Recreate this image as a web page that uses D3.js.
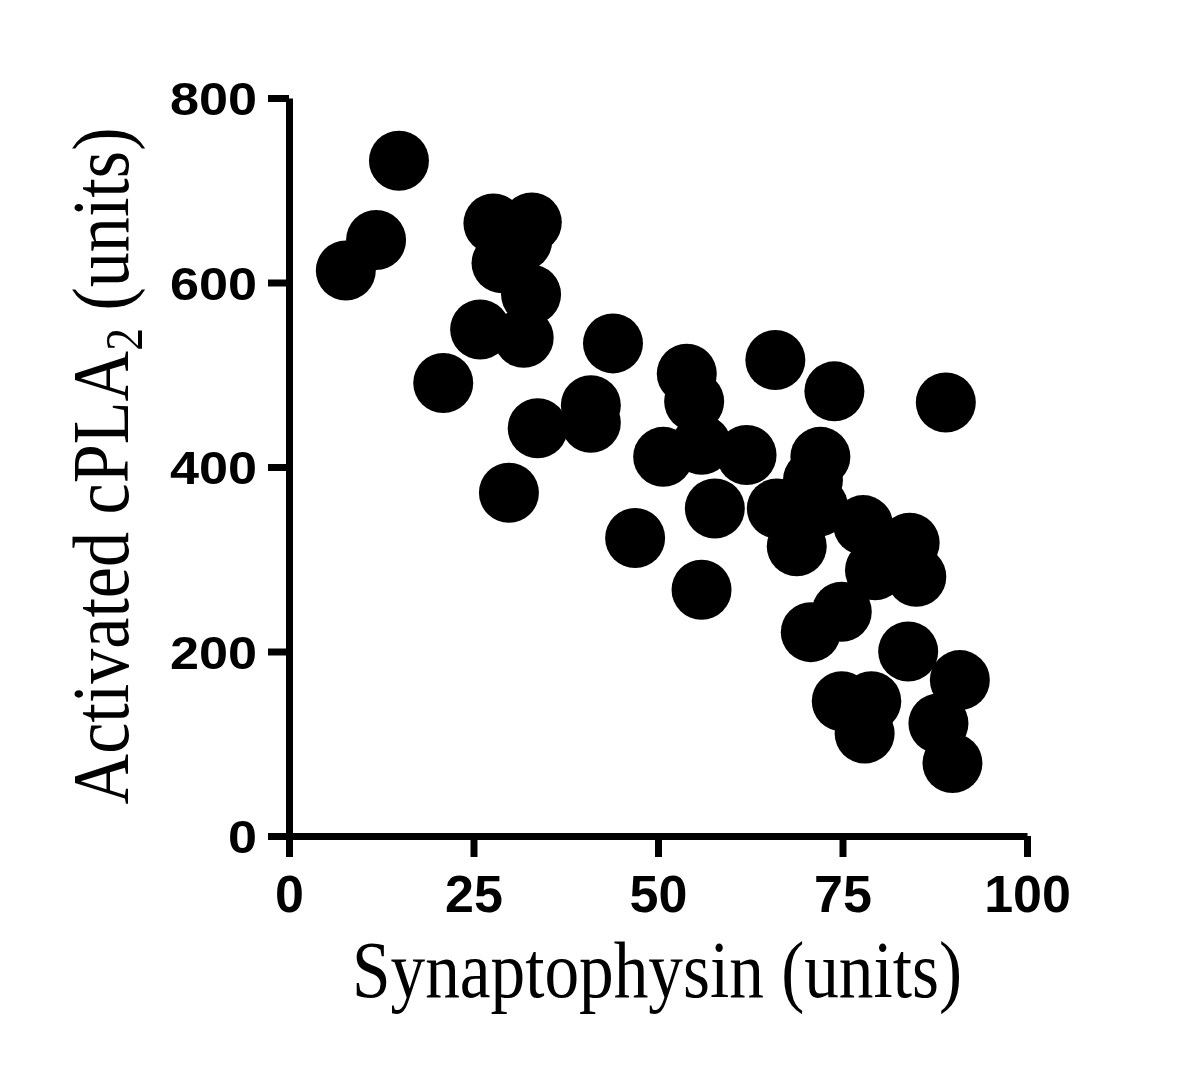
<!DOCTYPE html>
<html>
<head>
<meta charset="utf-8">
<script src="https://cdn.jsdelivr.net/npm/d3@7"></script>
<style>
  body { margin: 0; background: #fff; }
  svg { display: block; }
</style>
</head>
<body>
<svg></svg>
<script>
var width  = 1200;
var height = 1067;

// synaptophysin (x) and activated cPLA2 (y)
var synaptophysin = [
     7.7, 11.8, 14.9, 20.9, 25.9, 27.7, 32.9, 28.8, 31.6, 32.8,
    31.8, 29.8, 33.7, 40.9, 40.9, 43.9, 46.9, 50.7, 53.9, 54.9,
    55.9, 55.9, 57.7, 62.0, 65.9, 66.1, 68.8, 71.0, 71.7, 72.0,
    73.9, 77.8, 84.1, 79.4, 85.0, 70.7, 74.9, 83.9, 74.9, 78.9,
    78.0, 88.0, 89.9, 90.9, 89.0
];
var cpla2 = [
    613, 646, 732, 491, 549, 664, 665, 621, 645, 587,
    540, 372, 442, 467, 448, 534, 323, 411, 501, 471,
    424, 267, 355, 413, 516, 355, 314, 386, 357, 411,
    482, 337, 318, 288, 281, 221, 243, 200, 146, 146,
    111, 122,  79, 169, 470
];
var xTicks = [0, 25, 50, 75, 100];
var yTicks = [0, 200, 400, 600, 800];

var data = synaptophysin.map((x, i) => ({x: x, y: cpla2[i]}));

var xScale = d3.scaleLinear()
                    .domain([0, 100])
                    .range([289, 1027]);

var yScale = d3.scaleLinear()
                    .domain([0, 800])
                    .range([836, 98]);

var svg = d3.select('svg')
        .attr('width', width)
        .attr('height', height);

var xAxis = d3.axisBottom(xScale)
                    .tickValues(xTicks)
                    .tickSize(21)
                    .tickSizeOuter(0)
                    .tickPadding(18);

var yAxis = d3.axisLeft(yScale)
                    .tickValues(yTicks)
                    .tickSize(21)
                    .tickSizeOuter(0)
                    .tickPadding(11);

function styleAxis(g) {
    g.select('.domain').attr('stroke', '#000').attr('stroke-width', 7);
    g.selectAll('.tick line').attr('stroke', '#000').attr('stroke-width', 7);
    g.selectAll('.tick text')
        .attr('fill', '#000')
        .attr('font-family', 'Liberation Sans, Arial, sans-serif')
        .attr('font-weight', 'bold');
}

svg.append('g')
        .attr('transform', 'translate(0, ' + yScale(0) + ')')
        .call(xAxis)
        .call(styleAxis)
        .selectAll('.tick text')
        .attr('font-size', 52)
        .attr('dy', '0.71em');

// y labels come out a little wider than tall in the picture
svg.append('g')
        .attr('transform', 'translate(' + xScale(0) + ', 0)')
        .call(yAxis)
        .call(styleAxis)
        .selectAll('.tick text')
        .attr('font-size', 46)
        .attr('dy', '0.36em')
        .attr('textLength', d => String(d).length * 29)
        .attr('lengthAdjust', 'spacingAndGlyphs');

svg.append('g')
    .selectAll('circle')
    .data(data)
    .enter()
    .append('circle')
        .attr('cx', d => xScale(d.x))
        .attr('cy', d => yScale(d.y))
        .attr('r', 30)
        .attr('fill', '#000');

svg.append('text')
        .attr('x', 657)
        .attr('y', 997)
        .attr('text-anchor', 'middle')
        .attr('font-family', 'Liberation Serif, Times New Roman, serif')
        .attr('font-size', 80)
        .attr('textLength', 610)
        .attr('lengthAdjust', 'spacingAndGlyphs')
        .text('Synaptophysin (units)');

var yTitle = svg.append('text')
        .attr('transform', 'translate(128, 466) rotate(-90)')
        .attr('text-anchor', 'middle')
        .attr('font-family', 'Liberation Serif, Times New Roman, serif')
        .attr('font-size', 80)
        .attr('textLength', 677)
        .attr('lengthAdjust', 'spacingAndGlyphs');

yTitle.append('tspan').text('Activated cPLA');
yTitle.append('tspan')
        .attr('font-size', 52)
        .attr('dy', 14)
        .text('2');
yTitle.append('tspan')
        .attr('dy', -14)
        .text(' (units)');
</script>
</body>
</html>
